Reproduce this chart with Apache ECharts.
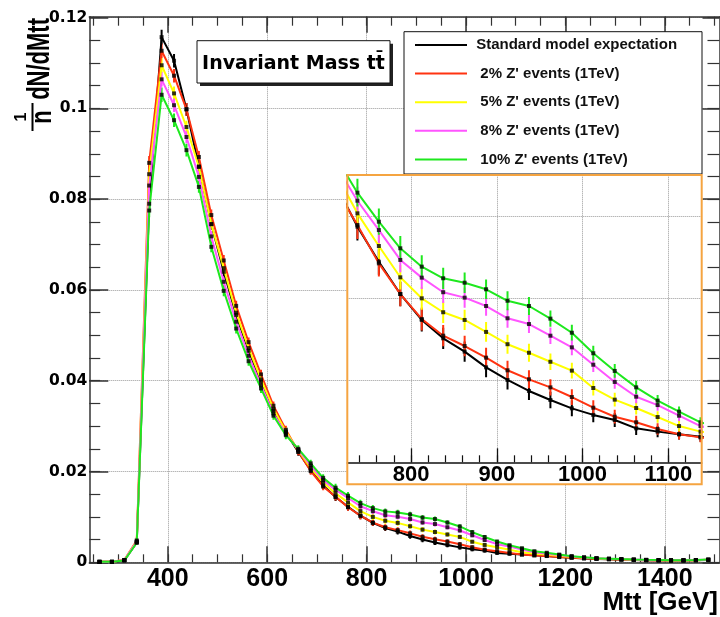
<!DOCTYPE html>
<html><head><meta charset="utf-8">
<script src="https://cdn.jsdelivr.net/npm/echarts@6/dist/echarts.min.js"></script>
<style>html,body{margin:0;padding:0;background:#fff}#chart{width:720px;height:617px}</style>
</head><body><div id="chart"></div>
<script>
// ---- data ----
const massBins = [262.5, 287.5, 312.5, 337.5, 362.5, 387.5, 412.5, 437.5, 462.5, 487.5, 512.5, 537.5, 562.5, 587.5, 612.5, 637.5, 662.5, 687.5, 712.5, 737.5, 762.5, 787.5, 812.5, 837.5, 862.5, 887.5, 912.5, 937.5, 962.5, 987.5, 1012.5, 1037.5, 1062.5, 1087.5, 1112.5, 1137.5, 1162.5, 1187.5, 1212.5, 1237.5, 1262.5, 1287.5, 1312.5, 1337.5, 1362.5, 1387.5, 1412.5, 1437.5, 1462.5, 1487.5];

const smExpectation = [0.0001, 0.0001, 0.0004, 0.0044, 0.0790, 0.1157, 0.1105, 0.0998, 0.0872, 0.0745, 0.0640, 0.0545, 0.0466, 0.0398, 0.0334, 0.0286, 0.0243, 0.0203, 0.0169,
  0.01437, 0.01223, 0.01026, 0.00868, 0.00756, 0.00675, 0.00579, 0.00502, 0.00435, 0.0038, 0.00329, 0.00289, 0.00258, 0.00207, 0.00187, 0.00171, 0.00156,
  0.00138, 0.00115, 0.00098, 0.00085, 0.00075, 0.00066, 0.00058, 0.00051, 0.00045, 0.0004, 0.00038, 0.0004, 0.00044, 0.00053];

const zprime2 = [0.0001, 0.0001, 0.0005, 0.0048, 0.0880, 0.1127, 0.1072, 0.0998, 0.0893, 0.0765, 0.0665, 0.0565, 0.0485, 0.0414, 0.0345, 0.0292, 0.0244, 0.0201, 0.0167,
  0.01447, 0.01213, 0.01026, 0.00874, 0.00772, 0.00709, 0.00638, 0.00561, 0.00506, 0.00457, 0.00398, 0.00333, 0.00278, 0.00244, 0.00203, 0.00171, 0.00152,
  0.0014, 0.00118, 0.001, 0.00088, 0.00078, 0.00068, 0.0006, 0.00053, 0.00046, 0.00042, 0.00039, 0.00041, 0.00045, 0.00054];

const zprime5 = [0.0001, 0.0001, 0.0005, 0.0046, 0.0855, 0.1095, 0.1033, 0.0959, 0.0871, 0.0745, 0.0648, 0.0550, 0.0472, 0.0403, 0.0338, 0.0288, 0.0247, 0.0208, 0.0176,
  0.01518, 0.01319, 0.01128, 0.0100, 0.00915, 0.00868, 0.00795, 0.0072, 0.00668, 0.00613, 0.00559, 0.00453, 0.00382, 0.00331, 0.00276, 0.00221, 0.00187,
  0.0017, 0.0014, 0.0012, 0.001, 0.00085, 0.00075, 0.00065, 0.00057, 0.0005, 0.00045, 0.00041, 0.00043, 0.00047, 0.00056];

const zprime8 = [0.0001, 0.0001, 0.0005, 0.0045, 0.0830, 0.1064, 0.1007, 0.0937, 0.0849, 0.0718, 0.0618, 0.0530, 0.0455, 0.0390, 0.0328, 0.0283, 0.0248, 0.0213, 0.0181,
  0.01595, 0.01416, 0.01234, 0.01126, 0.01037, 0.01004, 0.00953, 0.00878, 0.00843, 0.00772, 0.00701, 0.00595, 0.0049, 0.004, 0.00349, 0.00284, 0.00221,
  0.0019, 0.0016, 0.0013, 0.00105, 0.00088, 0.00078, 0.00068, 0.0006, 0.00052, 0.00047, 0.00043, 0.00044, 0.00048, 0.00058];

const zprime10 = [0.0001, 0.0001, 0.0004, 0.0043, 0.0775, 0.1030, 0.0974, 0.0908, 0.0827, 0.0695, 0.0598, 0.0515, 0.0443, 0.0383, 0.0323, 0.0280, 0.0250, 0.0218, 0.0186,
  0.01644, 0.01467, 0.01305, 0.01193, 0.01122, 0.01095, 0.01055, 0.00985, 0.00953, 0.00876, 0.0079, 0.00665, 0.00557, 0.00457, 0.00376, 0.00309, 0.00244,
  0.0021, 0.0017, 0.00135, 0.0011, 0.0009, 0.0008, 0.0007, 0.00062, 0.00055, 0.0005, 0.00045, 0.00045, 0.0005, 0.0006];

const statErrors = [0.00005, 0.00005, 0.0001, 0.0004, 0.0015, 0.0016, 0.0015, 0.0014, 0.0013, 0.0012, 0.0012, 0.0011, 0.001, 0.001, 0.0009, 0.0009, 0.0008, 0.0008, 0.0008,
  0.00085, 0.0008, 0.00075, 0.0007, 0.00065, 0.00062, 0.0006, 0.00058, 0.00055, 0.0005, 0.00048, 0.00045, 0.00042, 0.0004, 0.00035, 0.00032, 0.0003,
  0.0003, 0.00028, 0.00026, 0.00024, 0.00022, 0.0002, 0.0002, 0.0002, 0.0002, 0.0002, 0.0002, 0.00022, 0.00025, 0.0003];

const legendLabels = ["Standard model expectation", "2% Z' events (1TeV)", "5% Z' events (1TeV)", "8% Z' events (1TeV)", "10% Z' events (1TeV)"];

const xMajorTicks = [400, 600, 800, 1000, 1200, 1400];
const xMinorTicks = [250, 300, 350, 400, 450, 500, 550, 600, 650, 700, 750, 800, 850, 900, 950, 1000, 1050, 1100, 1150, 1200, 1250, 1300, 1350, 1400, 1450, 1500];
const yMajorTicks = [0, 0.02, 0.04, 0.06, 0.08, 0.1, 0.12];
const yMinorTicks = [0, 0.005, 0.01, 0.015, 0.02, 0.025, 0.03, 0.035, 0.04, 0.045, 0.05, 0.055, 0.06, 0.065, 0.07, 0.075, 0.08, 0.085, 0.09, 0.095, 0.1, 0.105, 0.11, 0.115, 0.12];
const insetMajorTicks = [800, 900, 1000, 1100];
const insetMinorTicks = [740, 760, 780, 800, 820, 840, 860, 880, 900, 920, 940, 960, 980, 1000, 1020, 1040, 1060, 1080, 1100, 1120];
const insetGridLevels = [0.005, 0.01, 0.015];

// ---- build ----
const colors = ['#000000', '#ff3311', '#ffff00', '#ff55ff', '#1ee81e'];
const valueSets = [smExpectation, zprime2, zprime5, zprime8, zprime10];
const defs = legendLabels.map((n, i) => ({name: n, values: valueSets[i], color: colors[i]}));

const plainNum = v => String(v);
const axisCol = '#333';
const gridLine = {show: true, lineStyle: {type: 'dotted', color: '#999', width: 1}};
function tickAxis(extra) {
  return Object.assign({
    type: 'value', axisLine: {show: false, onZero: false}, axisLabel: {show: false},
    splitLine: {show: false}, axisPointer: {show: false}
  }, extra);
}

const xAxes = [
  tickAxis({gridIndex: 0, min: 242, max: 1510, position: 'bottom',
    axisLine: {show: true, onZero: false, lineStyle: {color: axisCol, width: 1.5}},
    axisTick: {inside: true, length: 16, customValues: xMajorTicks, lineStyle: {color: axisCol, width: 1.5}},
    axisLabel: {show: true, customValues: xMajorTicks, formatter: plainNum, margin: 4, color: '#000', fontFamily: 'Liberation Sans', fontWeight: 'bold', fontSize: 25},
    splitLine: gridLine}),
  tickAxis({gridIndex: 0, min: 242, max: 1510, position: 'bottom',
    axisTick: {inside: true, length: 8, customValues: xMinorTicks, lineStyle: {color: axisCol, width: 1.2}}}),
  tickAxis({gridIndex: 0, min: 242, max: 1510, position: 'top',
    axisLine: {show: true, onZero: false, lineStyle: {color: axisCol, width: 1.5}},
    axisTick: {inside: true, length: 16, customValues: xMajorTicks, lineStyle: {color: axisCol, width: 1.5}}}),
  tickAxis({gridIndex: 0, min: 242, max: 1510, position: 'top',
    axisTick: {inside: true, length: 9, customValues: xMinorTicks, lineStyle: {color: axisCol, width: 1.2}}}),
  tickAxis({gridIndex: 1, min: 725.7, max: 1138.9, position: 'bottom', z: 5,
    axisLine: {show: true, onZero: false, lineStyle: {color: '#111', width: 1.5}},
    axisTick: {inside: true, length: 14, customValues: insetMajorTicks, lineStyle: {color: '#111', width: 1.3}},
    axisLabel: {show: true, customValues: insetMajorTicks, formatter: plainNum, margin: 2, color: '#000', fontFamily: 'Liberation Sans', fontWeight: 'bold', fontSize: 22},
    splitLine: gridLine}),
  tickAxis({gridIndex: 1, min: 725.7, max: 1138.9, position: 'bottom', z: 5,
    axisTick: {inside: true, length: 7, customValues: insetMinorTicks, lineStyle: {color: '#111', width: 1.2}}})
];

const yAxes = [
  tickAxis({gridIndex: 0, min: 0, max: 0.1202, position: 'left',
    axisLine: {show: true, onZero: false, lineStyle: {color: axisCol, width: 1.5}},
    axisTick: {inside: true, length: 19, customValues: yMajorTicks, lineStyle: {color: axisCol, width: 1.5}},
    axisLabel: {show: true, customValues: yMajorTicks, formatter: plainNum, margin: 2, color: '#000', fontFamily: 'DejaVu Sans', fontWeight: 'bold', fontSize: 15.5},
    splitLine: gridLine}),
  tickAxis({gridIndex: 0, min: 0, max: 0.1202, position: 'left',
    axisTick: {inside: true, length: 11, customValues: yMinorTicks, lineStyle: {color: axisCol, width: 1.2}}}),
  tickAxis({gridIndex: 0, min: 0, max: 0.1202, position: 'right',
    axisLine: {show: true, onZero: false, lineStyle: {color: axisCol, width: 1.5}},
    axisTick: {inside: true, length: 17, customValues: yMajorTicks, lineStyle: {color: axisCol, width: 1.5}}}),
  tickAxis({gridIndex: 0, min: 0, max: 0.1202, position: 'right',
    axisTick: {inside: true, length: 12, customValues: yMinorTicks, lineStyle: {color: axisCol, width: 1.2}}}),
  tickAxis({gridIndex: 1, min: 0, max: 0.0175, position: 'left', z: 5,
    axisTick: {show: false, customValues: insetGridLevels},
    splitLine: gridLine})
];

function makeSeries(def, xi, yi, z) {
  const pts = massBins.map((m, i) => [m, def.values[i]]);
  return [
    {type: 'custom', name: def.name + ' err', xAxisIndex: xi, yAxisIndex: yi, z: z, clip: true, silent: true,
      encode: {x: 0, y: 1},
      data: massBins.map((m, i) => [m, def.values[i], statErrors[i]]),
      renderItem: function (params, api) {
        const x = api.value(0), y = api.value(1), e = api.value(2);
        const a = api.coord([x, y - e]), b = api.coord([x, y + e]);
        return {type: 'line', shape: {x1: a[0], y1: a[1], x2: b[0], y2: b[1]}, style: {stroke: def.color, lineWidth: 2}};
      }},
    {type: 'line', name: def.name, xAxisIndex: xi, yAxisIndex: yi, z: z, data: pts,
      showSymbol: false, symbol: 'none', clip: true, silent: true, color: def.color,
      lineStyle: {color: def.color, width: 2}, itemStyle: {color: def.color}, emphasis: {disabled: true}},
    {type: 'scatter', name: def.name + ' pts', xAxisIndex: xi, yAxisIndex: yi, z: z, data: pts,
      symbol: 'rect', symbolSize: 4, clip: true, silent: true, itemStyle: {color: '#000'}, emphasis: {disabled: true}}
  ];
}

let series = [];
defs.forEach(d => { series = series.concat(makeSeries(d, 0, 0, 2)); });
defs.forEach(d => { series = series.concat(makeSeries(d, 4, 4, 6)); });

const option = {
  animation: false,
  backgroundColor: '#fff',
  grid: [
    {left: 89.3, top: 16.7, width: 630.2, height: 545.6, containLabel: false},
    {left: 347.3, top: 175.3, width: 354.4, height: 287, containLabel: false}
  ],
  xAxis: xAxes,
  yAxis: yAxes,
  legend: {
    orient: 'vertical', left: 415, top: 37.5, padding: 0, itemGap: 13.6,
    itemWidth: 52, itemHeight: 2, icon: 'rect', selectedMode: false, z: 4,
    data: legendLabels,
    formatter: name => (name === legendLabels[0] ? ' ' : '  ') + name,
    textStyle: {fontFamily: 'Liberation Sans', fontWeight: 'bold', fontSize: 15, color: '#111'}
  },
  graphic: {elements: [
    {type: 'rect', z: 3, silent: true, shape: {x: 404, y: 31.7, width: 298, height: 142.3},
      style: {fill: '#fff', stroke: '#111', lineWidth: 1}},
    {type: 'rect', z: 3, silent: true, shape: {x: 200, y: 43.7, width: 193, height: 42.3},
      style: {fill: '#222'}},
    {type: 'rect', z: 4, silent: true, shape: {x: 197, y: 40.7, width: 193, height: 42.3},
      style: {fill: '#fff', stroke: '#111', lineWidth: 1}},
    {type: 'text', z: 5, silent: true, x: 293.5, y: 64,
      style: {text: 'Invariant Mass tt\u0304', fill: '#000', font: 'bold 19px "DejaVu Sans"', align: 'center', verticalAlign: 'middle'}},
    {type: 'rect', z: 3, silent: true, shape: {x: 347.3, y: 175, width: 354.4, height: 309.3},
      style: {fill: '#fff'}},
    {type: 'rect', z: 10, silent: true, shape: {x: 347.3, y: 175, width: 354.4, height: 309.3},
      style: {fill: 'none', stroke: '#f5a440', lineWidth: 2}},
    {type: 'text', z: 5, silent: true, x: 718, y: 602.5,
      style: {text: 'Mtt [GeV]', fill: '#000', font: 'bold 26px "Liberation Sans"', align: 'right', verticalAlign: 'middle'}},
    {type: 'text', z: 5, silent: true, x: 40.5, y: 18, rotation: Math.PI / 2, scaleY: 1.45,
      style: {text: 'dN/dMtt', fill: '#000', font: 'bold 22px "Liberation Sans"', align: 'right', verticalAlign: 'middle'}},
    {type: 'text', z: 5, silent: true, x: 43.4, y: 117, rotation: Math.PI / 2, scaleY: 1.3,
      style: {text: 'n', fill: '#000', font: 'bold 22px "Liberation Sans"', align: 'center', verticalAlign: 'middle'}},
    {type: 'text', z: 5, silent: true, x: 21.2, y: 117, rotation: Math.PI / 2,
      style: {text: '1', fill: '#000', font: 'bold 16px "Liberation Sans"', align: 'center', verticalAlign: 'middle'}},
    {type: 'line', z: 5, silent: true, shape: {x1: 32.5, y1: 103, x2: 32.5, y2: 131},
      style: {stroke: '#000', lineWidth: 2}}
  ]},
  series: series
};

const chart = echarts.init(document.getElementById('chart'), null, {renderer: 'canvas'});
chart.setOption(option);
</script></body></html>
